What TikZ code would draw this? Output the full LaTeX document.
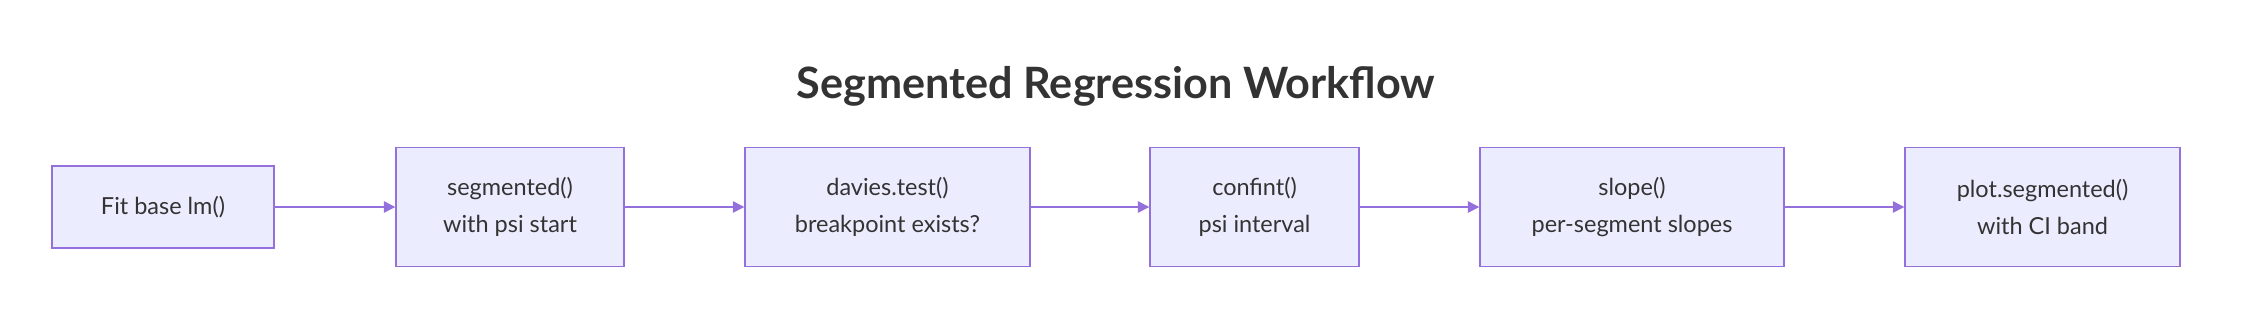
\documentclass[tikz,border=0pt]{standalone}
\usepackage{fontspec}
\setmainfont{Lato}
\usetikzlibrary{arrows.meta}
\definecolor{boxfill}{HTML}{ECECFF}
\definecolor{boxline}{HTML}{9370DB}
\definecolor{txt}{HTML}{333333}
\begin{document}
\begin{tikzpicture}[x=0.75pt,y=-0.75pt,
  stepbox/.style={draw=boxline, fill=boxfill, line width=1.1pt, text=txt,
    align=center, inner sep=0pt, font=\fontsize{17.6}{27.5}\selectfont},
  flow/.style={draw=boxline, line width=1.1pt, -{Triangle[length=8.5pt,width=8.5pt]}}]
\useasboundingbox (0,0) rectangle (2248,322);
\node[anchor=base, text=txt, font=\fontsize{32.4}{36}\selectfont\bfseries] (title) at (1116,98) {Segmented Regression Workflow};
\coordinate (P1) at (163,207);
\coordinate (P2) at (510,207);
\coordinate (P3) at (887.5,207);
\coordinate (P4) at (1254.5,207);
\coordinate (P5) at (1632,207);
\coordinate (P6) at (2042.5,207);
\node[stepbox, minimum width=166.5pt, minimum height=61.5pt] (fit) at (P1) {Fit base lm()};
\node[stepbox, minimum width=171pt, minimum height=89.25pt] (seg) at (P2) {segmented()\\with psi start};
\node[stepbox, minimum width=213.75pt, minimum height=89.25pt] (davies) at (P3) {davies.test()\\breakpoint exists?};
\node[stepbox, minimum width=156.75pt, minimum height=89.25pt] (conf) at (P4) {confint()\\psi interval};
\node[stepbox, minimum width=228pt, minimum height=89.25pt] (slope) at (P5) {slope()\\per-segment slopes};
\node[stepbox, minimum width=206.25pt, minimum height=89.25pt] (plot) at (P6) {plot.segmented()\\with CI band};
\draw[flow] (fit) -- (seg);
\draw[flow] (seg) -- (davies);
\draw[flow] (davies) -- (conf);
\draw[flow] (conf) -- (slope);
\draw[flow] (slope) -- (plot);
\end{tikzpicture}
\end{document}
